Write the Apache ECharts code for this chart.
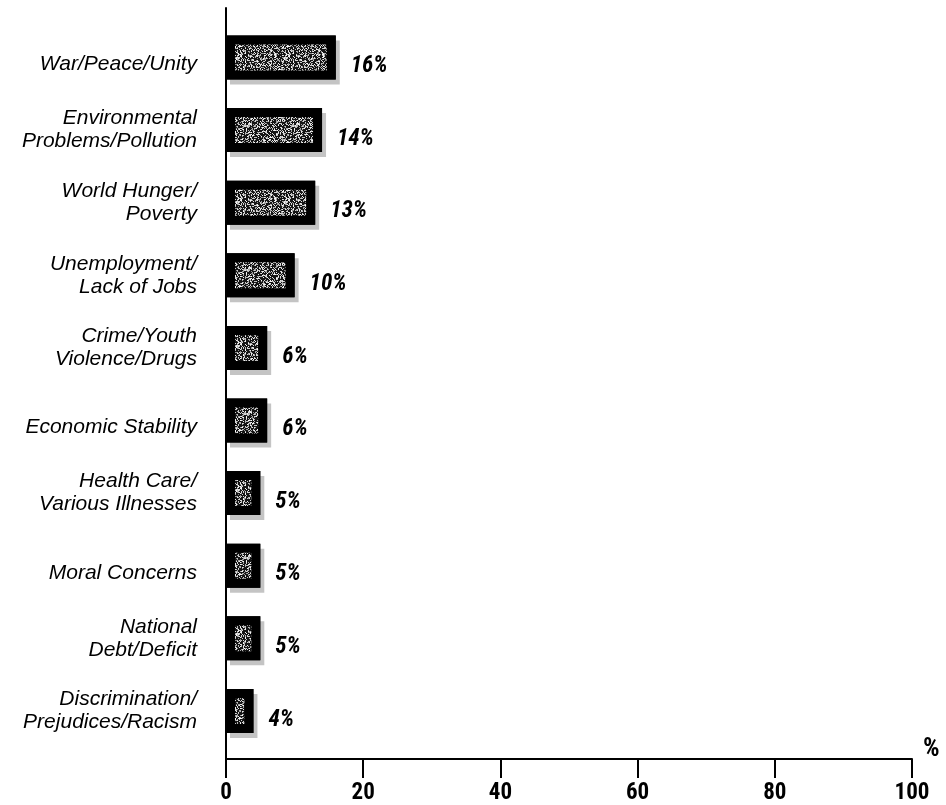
<!DOCTYPE html>
<html>
<head>
<meta charset="utf-8">
<script src="https://cdn.jsdelivr.net/npm/echarts@6/dist/echarts.min.js"></script>
<style>html,body{margin:0;padding:0;background:#fff;}#c{width:946px;height:805px;}</style>
</head>
<body>
<div id="c"></div>
<script>
const categories = [
  'War/Peace/Unity',
  'Environmental\nProblems/Pollution',
  'World Hunger/\nPoverty',
  'Unemployment/\nLack of Jobs',
  'Crime/Youth\nViolence/Drugs',
  'Economic Stability',
  'Health Care/\nVarious Illnesses',
  'Moral Concerns',
  'National\nDebt/Deficit',
  'Discrimination/\nPrejudices/Racism'
];
const values = [16, 14, 13, 10, 6, 6, 5, 5, 5, 4];
const xTicks = [0, 20, 40, 60, 80, 100];

// speckled texture for bar fill (styling only)
function makeTexture() {
  const cv = document.createElement('canvas');
  cv.width = 48; cv.height = 48;
  const ctx = cv.getContext('2d');
  ctx.fillStyle = '#151515';
  ctx.fillRect(0, 0, 48, 48);
  let s = 12345;
  function rnd() { s = (s * 1103515245 + 12345) % 2147483648; return s / 2147483648; }
  for (let y = 0; y < 48; y++) {
    for (let x = 0; x < 48; x++) {
      if (rnd() < 0.42) {
        const g = 140 + Math.floor(rnd() * 115);
        ctx.fillStyle = 'rgb(' + g + ',' + g + ',' + g + ')';
        ctx.fillRect(x, y, 1, 1);
      }
    }
  }
  return cv;
}
const tex = makeTexture();

const chart = echarts.init(document.getElementById('c'));
const narrow = "'Liberation Sans Narrow','Roboto Condensed','Liberation Sans',sans-serif";
const italicFont = "'Liberation Sans',Arial,sans-serif";
chart.setOption({
  backgroundColor: '#fff',
  animation: false,
  grid: [
    { left: 226, right: 34, top: 21.2, bottom: 57.8 },
    { left: 226, right: 34, top: 8, bottom: 46 }
  ],
  xAxis: [
    { gridIndex: 0, type: 'value', min: 0, max: 100, show: false },
    {
      gridIndex: 1, type: 'value', min: 0, max: 100, interval: 20,
      axisLine: { show: true, lineStyle: { color: '#000', width: 2 } },
      axisTick: { show: true, length: 19, lineStyle: { color: '#000', width: 2 } },
      splitLine: { show: false },
      axisLabel: {
        color: '#000', fontFamily: narrow, fontWeight: 'bold', fontSize: 23, margin: 23,
        formatter: function (v) { return xTicks.indexOf(v) >= 0 ? String(v) : ''; }
      },
      name: '%', nameLocation: 'end', nameGap: 11,
      nameTextStyle: { color: '#000', fontFamily: narrow, fontWeight: 'bold', fontSize: 26, verticalAlign: 'bottom', align: 'left', padding: [0, 0, -3, 0] }
    }
  ],
  yAxis: [
    {
      gridIndex: 0, type: 'category', data: categories, inverse: true,
      axisLine: { show: false }, axisTick: { show: false },
      axisLabel: {
        color: '#000', fontFamily: italicFont, fontStyle: 'italic',
        fontSize: 21, lineHeight: 23, margin: 29, align: 'right',
        formatter: function (v) { return v.indexOf('\n') >= 0 ? v : '{s|' + v + '}'; },
        rich: {
          s: { color: '#000', fontFamily: italicFont, fontStyle: 'italic', fontSize: 21, lineHeight: 23, padding: [14, 0, 0, 0], align: 'right' }
        }
      }
    },
    {
      gridIndex: 1, type: 'value', min: 0, max: 1,
      axisLine: { show: true, lineStyle: { color: '#000', width: 2 } },
      axisTick: { show: false }, axisLabel: { show: false }, splitLine: { show: false }
    }
  ],
  series: [
    {
      type: 'bar', xAxisIndex: 0, yAxisIndex: 0, data: values, barWidth: 44,
      itemStyle: {
        color: '#000',
        shadowColor: '#c4c4c4', shadowOffsetX: 4, shadowOffsetY: 5, shadowBlur: 0
      },
      silent: true
    },
    {
      type: 'bar', xAxisIndex: 0, yAxisIndex: 0, data: values, barWidth: 44, barGap: '-100%',
      itemStyle: {
        color: { image: tex, repeat: 'repeat' },
        borderColor: '#000', borderWidth: 9
      },
      label: {
        show: true, position: 'right', distance: 15, offset: [0, 9],
        formatter: '{c}%', color: '#000', fontFamily: narrow,
        fontWeight: 'bold', fontStyle: 'italic', fontSize: 23
      }
    }
  ]
});
</script>
</body>
</html>
